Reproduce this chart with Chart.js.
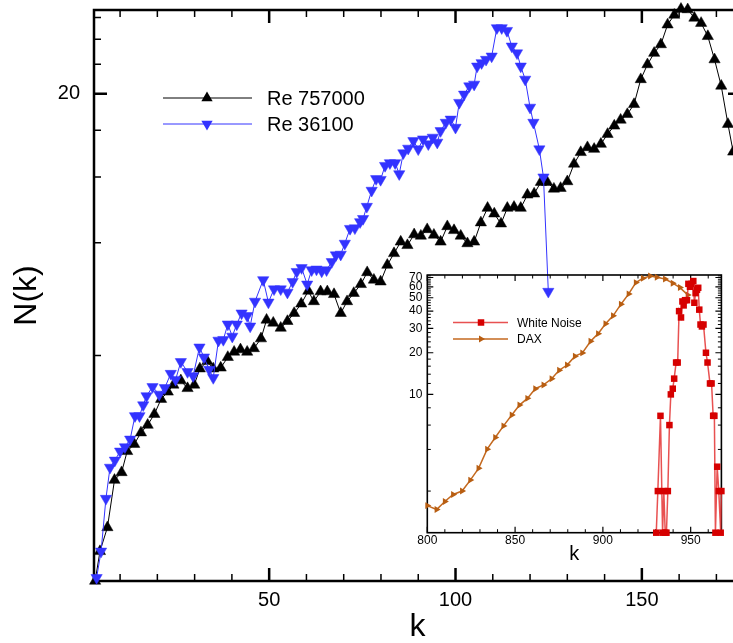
<!DOCTYPE html>
<html>
<head>
<meta charset="utf-8">
<script src="https://cdn.jsdelivr.net/npm/chart.js@4.4.1/dist/chart.umd.min.js"></script>
<style>
    html, body { margin: 0; padding: 0; background: #fff; overflow: hidden; }
    #wrap { position: relative; width: 733px; height: 643px; overflow: hidden; }
    #mainBox { position: absolute; left: 0; top: 0; width: 750px; height: 643px; }
    #insetBox { position: absolute; left: 380px; top: 262px; width: 346px; height: 310px; }
</style>
</head>
<body>
<div id="wrap">
    <div id="mainBox"><canvas id="mainChart"></canvas></div>
    <div id="insetBox"><canvas id="insetChart"></canvas></div>
</div>
<script>
// main chart: Re 757000 (black, up triangles)
const kRe757000 = [3.3, 4.6, 6.6, 8.5, 10.4, 11.9, 13.8, 15.6, 17.4, 19.2, 21.0, 22.8, 24.3, 26.3, 28.1, 29.9, 31.4, 33.4, 35.0, 37.0,
    38.9, 40.6, 42.3, 44.1, 45.9, 47.8, 49.3, 51.1, 53.1, 54.9, 56.7, 58.6, 60.5, 62.0, 63.8, 65.6, 67.4, 69.2, 70.9, 72.7,
    74.6, 76.3, 78.1, 79.9, 81.7, 83.5, 85.3, 87.1, 88.9, 90.7, 92.4, 94.2, 96.0, 97.8, 99.6, 101.4, 103.2, 105.0, 106.8, 108.6,
    110.4, 112.2, 113.9, 115.7, 117.5, 119.3, 121.1, 122.9, 124.6, 126.4, 128.2, 130.0, 131.8, 133.6, 135.4, 137.2, 139.0, 140.8, 142.6, 144.3,
    146.1, 147.9, 149.7, 151.5, 153.3, 155.1, 156.9, 158.7, 160.5, 162.3, 164.1, 165.9, 167.7, 169.5, 171.3, 173.1, 174.5];
const nRe757000 = [1.0, 1.2, 1.39, 1.86, 1.95, 2.22, 2.32, 2.49, 2.61, 2.79, 3.06, 3.2, 3.34, 3.43, 3.27, 3.34, 3.69, 3.86, 3.69, 3.71,
    3.96, 4.09, 4.15, 4.09, 4.18, 4.44, 4.98, 4.89, 4.74, 4.94, 5.19, 5.5, 5.95, 5.58, 5.93, 5.93, 5.83, 5.19, 5.58, 5.87,
    6.2, 6.67, 6.37, 6.3, 6.98, 7.5, 8.05, 7.88, 8.42, 8.35, 8.69, 8.4, 8.05, 8.85, 8.64, 8.35, 7.97, 8.05, 9.06, 9.91,
    9.57, 9.0, 9.91, 9.97, 9.91, 10.75, 10.82, 11.62, 11.62, 11.15, 11.2, 11.67, 13.0, 13.96, 14.39, 14.24, 14.69, 15.61, 16.43, 17.04,
    17.64, 18.76, 21.86, 23.96, 25.7, 27.1, 30.6, 32.5, 33.7, 33.6, 31.9, 30.9, 28.5, 24.7, 21.0, 16.6, 14.0];

// main chart: Re 36100 (blue, down triangles)
const kRe36100 = [3.7, 4.9, 6.2, 7.3, 8.6, 10.0, 11.3, 12.7, 14.0, 15.2, 16.2, 17.1, 18.7, 20.5, 22.0, 23.6, 24.9, 26.3, 28.1, 29.6,
    31.3, 32.5, 33.9, 35.0, 36.4, 37.7, 38.9, 40.1, 41.3, 42.6, 44.1, 44.9, 46.2, 48.4, 49.8, 51.3, 53.1, 54.9, 56.3, 57.4,
    58.7, 60.2, 61.4, 62.7, 64.1, 65.4, 66.8, 67.9, 69.2, 70.3, 71.7, 73.0, 74.4, 75.2, 76.2, 77.5, 78.7, 79.9, 81.1, 82.4,
    83.8, 84.9, 86.0, 87.3, 88.7, 90.0, 91.3, 92.7, 93.9, 95.1, 96.0, 97.4, 98.7, 100.0, 101.0, 102.3, 103.7, 105.0, 105.8, 107.0,
    108.2, 109.7, 111.1, 112.4, 113.8, 115.1, 116.5, 117.5, 118.7, 120.0, 120.9, 122.5, 123.6, 124.9];
const nRe36100 = [1.02, 1.2, 1.66, 2.01, 2.10, 2.22, 2.28, 2.39, 2.76, 2.76, 2.95, 3.12, 3.30, 3.15, 3.28, 3.58, 3.45, 3.85, 3.62, 3.53,
    4.21, 3.96, 3.67, 3.49, 4.39, 4.41, 4.85, 4.50, 4.85, 5.19, 5.11, 4.79, 5.58, 6.37, 5.55, 6.02, 6.02, 5.9, 6.3, 6.7,
    6.86, 6.2, 6.77, 6.8, 6.72, 6.77, 7.12, 7.42, 7.45, 7.97, 8.73, 8.76, 9.1, 9.28, 10.0, 11.04, 11.86, 11.8, 12.86, 13.08,
    13.08, 12.22, 13.9, 14.3, 14.98, 14.24, 15.14, 14.69, 15.3, 14.84, 15.93, 16.77, 17.1, 16.26, 18.95, 19.94, 20.98, 21.2, 23.7, 24.2,
    24.7, 25.2, 30.0, 30.0, 29.5, 26.8, 25.7, 23.7, 21.86, 18.4, 16.77, 14.24, 11.98, 5.93];

// inset: White Noise (red squares)
const kWhiteNoise = [930.4, 931.3, 932.8, 934.0, 934.7, 935.5, 936.2, 937.0, 937.9, 938.7, 939.8, 940.6, 941.7, 942.6, 943.4,
    944.5, 945.3, 946.0, 946.8, 947.9, 948.7, 949.6, 950.5, 951.5, 952.1, 952.8, 953.6, 954.3, 954.9, 955.6,
    956.4, 957.3, 958.7, 959.6, 961.0, 961.9, 962.8, 963.5, 964.1, 965.1, 966.0, 967.1, 967.5];
const nWhiteNoise = [1, 2, 7, 1, 2, 1, 1, 2, 6, 10, 11, 13, 17, 17, 40,
    36, 47, 44, 48, 48, 63, 60, 63, 66, 46, 54, 57, 59, 41, 32,
    31, 32, 20, 17, 12, 12, 7, 7, 1, 3, 2, 1, 2];

// inset: DAX (brown right triangles)
const kDax = [800, 805.3, 810, 814.7, 819.8, 824.5, 829.2, 834.1, 838.7, 843.4, 848.1, 852.5, 857, 861.5, 866.2, 870.8, 875.1,
    879.6, 884.1, 888.3, 893, 897.3, 901.5, 905.8, 910.3, 914.7, 918.8, 922.8, 926.9, 930.7, 935.4, 939.8, 943.9, 948.3];
const nDax = [1.57, 1.47, 1.68, 1.89, 2.0, 2.40, 2.92, 4.02, 4.88, 5.92, 7.10, 8.37, 9.36, 10.99, 11.7, 12.97, 14.96,
    16.3, 18.9, 19.96, 24.2, 27.5, 32.4, 37, 44.9, 53.3, 64.3, 69.1, 71.8, 70.3, 68.3, 63.7, 59.2, 52.4];

// ticks
const mainXTicks = [10, 20, 30, 40, 50, 60, 70, 80, 90, 100, 110, 120, 130, 140, 150, 160, 170];
const mainXLabels = [50, 100, 150];
const mainYTicks = [4, 8, 12, 16, 20, 24, 28, 32];
const mainYLabels = [20];
const insetXTicks = [800, 810, 820, 830, 840, 850, 860, 870, 880, 890, 900, 910, 920, 930, 940, 950, 960];
const insetXLabels = [800, 850, 900, 950];
const insetYTicks = [2, 4, 6, 8, 10, 12, 14, 16, 18, 20, 22, 24, 26, 28, 30, 32, 34, 36, 38, 40, 42, 44, 46, 48, 50,
    52, 54, 56, 58, 60, 62, 64, 66, 68, 70, 72];
const insetYLabels = [10, 20, 30, 40, 50, 60, 70];

const FONT = "'Liberation Sans', Arial, sans-serif";
Chart.defaults.color = '#000';
Chart.defaults.font.family = FONT;

const toPoints = (xs, ys) => xs.map((x, i) => ({ x: x, y: ys[i] }));
const setTicks = (list) => (scale) => { scale.ticks = list.map(v => ({ value: v })); };
const onlyLabels = (list) => (value) => list.includes(value) ? String(value) : '';
// fix axis box size and drop the label overhang padding
const fitBox = (w, h) => (s) => {
    if (w !== null) s.width = w;
    if (h !== null) s.height = h;
    s.paddingTop = 0; s.paddingBottom = 0; s.paddingLeft = 0; s.paddingRight = 0;
};

// frame box with inward ticks on all four sides
const framePlugin = {
    id: 'frame',
    beforeDatasetsDraw(chart, args, o) {
        const { ctx, chartArea: a } = chart;
        const x = chart.scales.x, y = chart.scales.y;
        ctx.save();
        ctx.strokeStyle = '#000';
        x.ticks.forEach(t => {
            const px = x.getPixelForValue(t.value);
            const major = o.xMajor.includes(t.value);
            const len = major ? o.majorLen : o.minorLen;
            ctx.lineWidth = major ? o.majorWidth : o.minorWidth;
            ctx.beginPath();
            ctx.moveTo(px, a.bottom); ctx.lineTo(px, a.bottom - len);
            ctx.moveTo(px, a.top); ctx.lineTo(px, a.top + len);
            ctx.stroke();
        });
        y.ticks.forEach(t => {
            const py = y.getPixelForValue(t.value);
            const major = o.yMajor.includes(t.value);
            const len = major ? o.majorLen : o.minorLen;
            ctx.lineWidth = major ? o.majorWidth : o.minorWidth;
            ctx.beginPath();
            ctx.moveTo(a.left, py); ctx.lineTo(a.left + len, py);
            ctx.moveTo(a.right, py); ctx.lineTo(a.right - len, py);
            ctx.stroke();
        });
        ctx.lineWidth = o.frameWidth;
        ctx.strokeRect(a.left, a.top, a.right - a.left, a.bottom - a.top);
        ctx.restore();
    }
};

function drawMarker(ctx, style, x, y, r, rot) {
    ctx.save();
    ctx.translate(x, y);
    ctx.rotate(rot * Math.PI / 180);
    ctx.beginPath();
    if (style === 'rect') {
        const s = r * Math.SQRT1_2;
        ctx.rect(-s, -s, 2 * s, 2 * s);
    } else {
        for (let i = 0; i < 3; i++) {
            const ang = i * 2 * Math.PI / 3;
            const px = Math.sin(ang) * r, py = -Math.cos(ang) * r;
            if (i) ctx.lineTo(px, py); else ctx.moveTo(px, py);
        }
        ctx.closePath();
    }
    ctx.fill();
    ctx.restore();
}

// legend drawn inside the plot (line + marker + text)
const boxLegend = {
    id: 'boxLegend',
    afterDraw(chart, args, o) {
        const ctx = chart.ctx;
        ctx.save();
        ctx.font = o.fontSize + 'px ' + FONT;
        ctx.textBaseline = 'middle';
        ctx.textAlign = 'left';
        chart.data.datasets.forEach((ds, i) => {
            const yy = o.rows[i];
            ctx.strokeStyle = ds.borderColor;
            ctx.lineWidth = ds.borderWidth;
            ctx.beginPath();
            ctx.moveTo(o.x0, yy); ctx.lineTo(o.x1, yy);
            ctx.stroke();
            ctx.fillStyle = ds.pointBackgroundColor;
            drawMarker(ctx, ds.pointStyle, o.markX, yy, ds.pointRadius, ds.pointRotation || 0);
            ctx.fillStyle = '#000';
            ctx.fillText(ds.label, o.textX, yy + 1);
        });
        ctx.restore();
    }
};

// MAIN
new Chart(document.getElementById('mainChart'), {
    type: 'line',
    data: {
        datasets: [{
            label: 'Re 757000',
            data: toPoints(kRe757000, nRe757000),
            borderColor: '#000000',
            borderWidth: 1,
            pointStyle: 'triangle',
            pointRadius: 6.5,
            pointBackgroundColor: '#000000',
            pointBorderColor: '#000000',
            pointBorderWidth: 0.5,
            order: 2,
            clip: false
        }, {
            label: 'Re 36100',
            data: toPoints(kRe36100, nRe36100),
            borderColor: '#3333ff',
            borderWidth: 1,
            pointStyle: 'triangle',
            pointRotation: 180,
            pointRadius: 6.5,
            pointBackgroundColor: '#3333ff',
            pointBorderColor: '#3333ff',
            pointBorderWidth: 0.5,
            order: 1,
            clip: false
        }]
    },
    options: {
        responsive: true,
        maintainAspectRatio: false,
        animation: false,
        layout: { padding: { top: 10, right: 9, left: 0, bottom: 0 } },
        elements: { line: { tension: 0 } },
        plugins: {
            legend: { display: false },
            tooltip: { enabled: false },
            frame: { xMajor: mainXLabels, yMajor: mainYLabels, majorLen: 13, minorLen: 7, majorWidth: 2.5, minorWidth: 1.5, frameWidth: 2.5 },
            boxLegend: { x0: 163, x1: 252, markX: 207, textX: 267, rows: [98, 124], fontSize: 20 }
        },
        scales: {
            x: {
                type: 'linear', min: 3, max: 176.6,
                grid: { display: false, drawTicks: false },
                border: { display: false },
                afterBuildTicks: setTicks(mainXTicks),
                afterFit: fitBox(null, 62),
                ticks: { autoSkip: false, maxRotation: 0, padding: 7, font: { size: 20 }, callback: onlyLabels(mainXLabels) },
                title: { display: true, text: 'k', font: { size: 32, lineHeight: 1 }, padding: 0 }
            },
            y: {
                type: 'logarithmic', min: 1, max: 33.5,
                grid: { display: false, drawTicks: false },
                border: { display: false },
                afterBuildTicks: setTicks(mainYTicks),
                afterFit: fitBox(94, null),
                ticks: { autoSkip: false, padding: 14, font: { size: 20 }, callback: onlyLabels(mainYLabels) },
                title: { display: true, text: 'N(k)', font: { size: 32, lineHeight: 1 }, padding: { top: 11, bottom: 0 } }
            }
        }
    },
    plugins: [framePlugin, boxLegend]
});

// INSET
new Chart(document.getElementById('insetChart'), {
    type: 'line',
    data: {
        datasets: [{
            label: 'White Noise',
            data: toPoints(kWhiteNoise, nWhiteNoise),
            borderColor: 'rgba(228,50,50,0.85)',
            borderWidth: 1.5,
            pointStyle: 'rect',
            pointRadius: 4.6,
            pointBackgroundColor: '#d60000',
            pointBorderColor: '#d60000',
            pointBorderWidth: 0,
            order: 1,
            clip: false
        }, {
            label: 'DAX',
            data: toPoints(kDax, nDax),
            borderColor: '#c4691f',
            borderWidth: 1.5,
            pointStyle: 'triangle',
            pointRotation: 90,
            pointRadius: 4,
            pointBackgroundColor: '#b85e12',
            pointBorderColor: '#b85e12',
            pointBorderWidth: 0,
            order: 2,
            clip: false
        }]
    },
    options: {
        responsive: true,
        maintainAspectRatio: false,
        animation: false,
        layout: { padding: { top: 13, right: 2.7, left: 0, bottom: 0 } },
        elements: { line: { tension: 0 } },
        plugins: {
            legend: { display: false },
            tooltip: { enabled: false },
            frame: { xMajor: insetXLabels, yMajor: insetYLabels, majorLen: 6, minorLen: 3.5, majorWidth: 1.2, minorWidth: 1, frameWidth: 1.6 },
            boxLegend: { x0: 73, x1: 128, markX: 101, textX: 137, rows: [60.5, 77], fontSize: 12 }
        },
        scales: {
            x: {
                type: 'linear', min: 800, max: 967.5,
                grid: { display: false, drawTicks: false },
                border: { display: false },
                afterBuildTicks: setTicks(insetXTicks),
                afterFit: fitBox(null, 39.3),
                ticks: { autoSkip: false, maxRotation: 0, padding: 1, font: { size: 12 }, callback: onlyLabels(insetXLabels) },
                title: { display: true, text: 'k', font: { size: 20, lineHeight: 1 }, padding: { top: 0, bottom: 8 } }
            },
            y: {
                type: 'logarithmic', min: 1, max: 73,
                grid: { display: false, drawTicks: false },
                border: { display: false },
                afterBuildTicks: setTicks(insetYTicks),
                afterFit: fitBox(47.3, null),
                ticks: { autoSkip: false, padding: 5, font: { size: 12 }, callback: onlyLabels(insetYLabels) }
            }
        }
    },
    plugins: [framePlugin, boxLegend]
});
</script>
</body>
</html>
